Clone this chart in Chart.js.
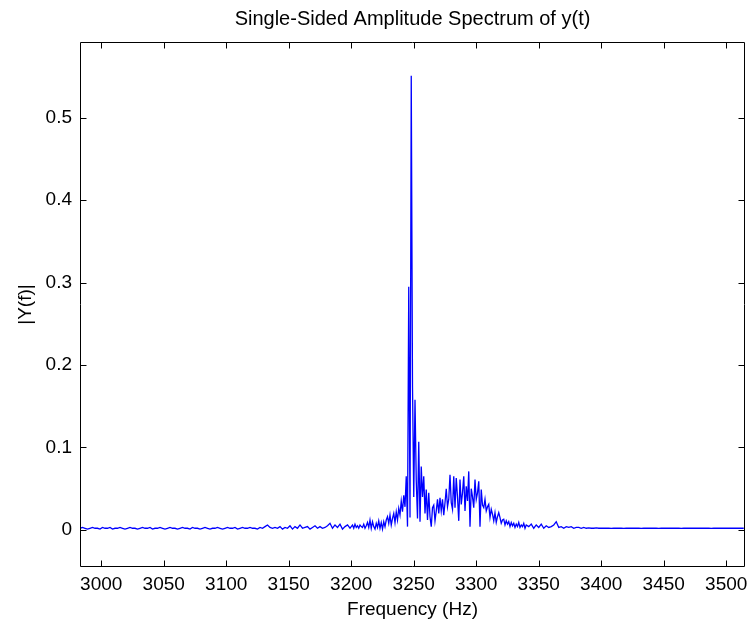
<!DOCTYPE html>
<html>
<head>
<meta charset="utf-8">
<script src="https://cdn.jsdelivr.net/npm/chart.js@4.4.1/dist/chart.umd.min.js"></script>
<style>
  html, body { margin: 0; padding: 0; background: #ffffff; }
  canvas { display: block; }
</style>
</head>
<body>
<canvas id="c" width="749" height="623"></canvas>
<script>
// ---- Data (|Y(f)| vs frequency in Hz) ----
// Low-frequency floor: bins from 2983 Hz, every 2 Hz
const lowStartHz = 2983, lowStepHz = 2;
const ampLow = [
  .002,.003,.002,.001,.002,.003,.002,.002,.001,.003,.002,.002,.003,.001,.002,.002,.003,.002,.001,
  .002,.003,.002,.002,.001,.002,.003,.002,.002,.003,.001,.002,.002,.003,.002,.001,.002,.003,.002,.002,
  .001,.002,.003,.002,.002,.001,.003,.002,.002,.001,.002,.003,.002,.001,.002,.002,.003,.002,.001,.002,
  .003,.002,.002,.003,.001,.002,.003,.002,.002,.003,.002,.002,.001,.003,.002,.004,.006,.003,.002,.003,
  .002,.004,.001,.003,.002,.005,.001,.004,.002,.006,.002,.003,.004,.001,.003,.005,.002,.004,.002,.003,
  .005,.008,.002,.006,.003,.007,.001,.004,.006,.002
];
// Signal region: bins from 3200 Hz, every 1 Hz
const sigStartHz = 3200, sigStepHz = 1;
const ampSignal = [
  .004,.006,.002,.007,.003,.005,.002,.006,.004,.003,
  .007,.002,.005,.009,.003,.012,.002,.010,.004,.001,
  .008,.003,.011,.002,.009,.001,.010,.004,.012,.016,
  .008,.018,.006,.014,.020,.009,.022,.012,.026,.018,
  .035,.022,.042,.028,.065,.004,.295,.015,.551,.174,
  .040,.158,.060,.014,.107,.010,.077,.040,.065,.020,
  .049,.012,.045,.016,.004,.027,.030,.011,.023,.037,
  .020,.039,.023,.037,.018,.033,.050,.028,.037,.067,
  .033,.025,.065,.027,.063,.040,.011,.061,.031,.045,
  .065,.023,.053,.035,.071,.004,.050,.040,.027,.061,
  .037,.045,.059,.004,.049,.030,.027,.037,.023,.028,
  .031,.015,.025,.019,.011,.021,.009,.016,.021,.015,
  .008,.012,.013,.006,.011,.007,.010,.004,.009,.005,
  .008,.003,.007,.004,.009,.003,.006,.004,.008,.002,
  .006
];
// High-frequency floor: bins from 3342 Hz, every 2 Hz
const highStartHz = 3342, highStepHz = 2;
const ampHigh = [
  .004,.007,.002,.006,.003,.007,.002,.005,.003,.004,
  .006,.010,.003,.004,.002,.004,.003,.004,.002,.003,
  .003,.002,.003,.002,.0025,.002,.002,.0025,.002,.002,
  .002,.0022,.002,.0018,.002,.002,.0021,.002,.0019,.002,
  .002,.002,.0021,.002,.002,.0019,.002,.002,.002,.0021,
  .002,.002,.0019,.002,.002,.002,.0021,.002,.002,.002,
  .002,.0019,.002,.002,.002,.002,.0021,.002,.002,.002,
  .002,.002,.002,.0019,.002,.002,.002,.002,.002,.002,
  .002,.002,.002,.002,.002,.002,.002
];

// Axis ranges and tick labels
const xRangeHz = [2983, 3515];
const xTickLabels = ['3000','3050','3100','3150','3200','3250','3300','3350','3400','3450','3500'];
const yRange = [-0.045, 0.592];
const yTickLabels = ['0','0.1','0.2','0.3','0.4','0.5'];

const titleText = 'Single-Sided Amplitude Spectrum of y(t)';
const xTitle = 'Frequency (Hz)';
const yTitle = '|Y(f)|';

// ---- Build points ----
function seg(start, step, arr) { return arr.map((v, i) => ({ x: start + i * step, y: v })); }
const points = [].concat(
  seg(lowStartHz, lowStepHz, ampLow),
  seg(sigStartHz, sigStepHz, ampSignal),
  seg(highStartHz, highStepHz, ampHigh)
);

const FONT = '"Liberation Sans", Arial, Helvetica, sans-serif';
Chart.defaults.font.family = FONT;
Chart.defaults.font.size = 19;
Chart.defaults.color = '#000000';

// Box + inward ticks on all four sides (MATLAB style)
const frameTicks = {
  id: 'frameTicks',
  afterDatasetsDraw(chart) {
    const { ctx, chartArea: a, scales: { x, y } } = chart;
    const L = Math.round(a.left) + 0.5, R = Math.round(a.right) - 0.5;
    const T = Math.round(a.top) + 0.5, B = Math.round(a.bottom) - 0.5;
    const len = 6;
    ctx.save();
    ctx.strokeStyle = '#000000';
    ctx.lineWidth = 1;
    ctx.beginPath();
    ctx.rect(L, T, R - L, B - T);
    x.ticks.forEach(t => {
      const px = Math.round(x.getPixelForValue(t.value)) + 0.5;
      ctx.moveTo(px, B); ctx.lineTo(px, B - len);
      ctx.moveTo(px, T); ctx.lineTo(px, T + len);
    });
    y.ticks.forEach(t => {
      const py = Math.round(y.getPixelForValue(t.value)) + 0.5;
      ctx.moveTo(L, py); ctx.lineTo(L + len, py);
      ctx.moveTo(R, py); ctx.lineTo(R - len, py);
    });
    ctx.stroke();
    ctx.restore();
  }
};

new Chart(document.getElementById('c'), {
  type: 'line',
  data: {
    datasets: [{
      data: points,
      borderColor: '#0000ff',
      borderWidth: 1.3,
      pointRadius: 0,
      tension: 0,
      fill: false
    }]
  },
  options: {
    responsive: false,
    animation: false,
    events: [],
    layout: { padding: { left: 0, right: 4, top: 0, bottom: 0 } },
    plugins: {
      legend: { display: false },
      tooltip: { enabled: false },
      title: {
        display: true,
        fullSize: false,
        text: titleText,
        color: '#000000',
        font: { family: FONT, size: 20, weight: 'normal', lineHeight: 1.2 },
        padding: { top: 7, bottom: 11 }
      }
    },
    scales: {
      x: {
        type: 'linear',
        min: xRangeHz[0],
        max: xRangeHz[1],
        afterFit(s) { s.height = 56; s.paddingLeft = 0; s.paddingRight = 0; },
        grid: { display: true, drawOnChartArea: false, drawTicks: false },
        border: { display: false },
        ticks: {
          stepSize: 50,
          includeBounds: false,
          autoSkip: false,
          maxRotation: 0,
          padding: 6,
          color: '#000000',
          callback: (v) => { const s = String(Math.round(v)); return xTickLabels.includes(s) ? s : ''; }
        },
        title: { display: true, text: xTitle, color: '#000000', font: { size: 19 }, padding: { top: 0, bottom: 2 } }
      },
      y: {
        type: 'linear',
        min: yRange[0],
        max: yRange[1],
        afterFit(s) { s.width = 80; s.paddingTop = 0; s.paddingBottom = 0; },
        grid: { display: true, drawOnChartArea: false, drawTicks: false },
        border: { display: false },
        ticks: {
          stepSize: 0.1,
          includeBounds: false,
          autoSkip: false,
          padding: 8,
          color: '#000000',
          callback: (v) => { const i = Math.round(v * 10); return yTickLabels[i] !== undefined && i >= 0 ? yTickLabels[i] : ''; }
        },
        title: { display: true, text: yTitle, color: '#000000', font: { size: 19 }, padding: { top: 14, bottom: 0 } }
      }
    }
  },
  plugins: [frameTicks]
});
</script>
</body>
</html>
